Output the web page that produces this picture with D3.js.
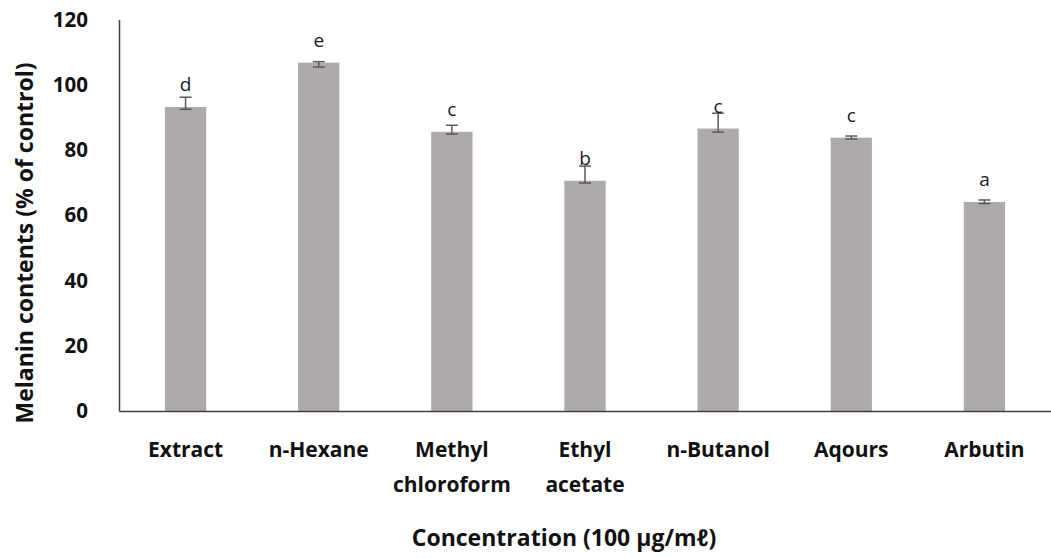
<!DOCTYPE html>
<html>
<head>
<meta charset="utf-8">
<script src="https://cdn.jsdelivr.net/npm/d3@7"></script>
<style>
  html, body { margin: 0; padding: 0; background: #fff; }
  svg { display: block; }
</style>
</head>
<body>
<svg id="chart" width="1051" height="558"></svg>
<script>
// Melanin content per fraction, with error bars and significance letters
const categories = [["Extract"], ["n-Hexane"], ["Methyl", "chloroform"], ["Ethyl", "acetate"], ["n-Butanol"], ["Aqours"], ["Arbutin"]];
const values = [93.2, 106.8, 85.6, 70.6, 86.6, 83.8, 64.1];
const errUp = [3.0, 0.3, 2.0, 4.5, 4.7, 0.5, 0.6];
const errDown = [0.7, 1.35, 0.7, 0.7, 1.1, 0.4, 0.5];
const letters = ["d", "e", "c", "b", "c", "c", "a"];
const yTicks = [0, 20, 40, 60, 80, 100, 120];

const svg = d3.select("#chart");
const plotLeft = 119, plotRight = 1051, plotTop = 19.6, plotBottom = 411;
const font = "'Open Sans', sans-serif";

const x = d3.scaleBand()
  .domain(d3.range(categories.length))
  .range([plotLeft, plotRight])
  .paddingInner(0.69)
  .paddingOuter(0.345);

const y = d3.scaleLinear().domain([0, 120]).range([plotBottom, plotTop]);

// bars
svg.append("g").selectAll("rect")
  .data(values)
  .join("rect")
  .attr("x", (d, i) => x(i))
  .attr("y", d => y(d))
  .attr("width", x.bandwidth())
  .attr("height", d => y(0) - y(d))
  .attr("fill", "#aeaaa9");

// error bars
const eb = svg.append("g").attr("stroke", "#5a5a5a").attr("stroke-width", 1.5);
values.forEach((v, i) => {
  const cx = x(i) + x.bandwidth() / 2;
  const y1 = y(v + errUp[i]), y2 = y(v - errDown[i]);
  eb.append("line").attr("x1", cx).attr("x2", cx).attr("y1", y1).attr("y2", y2);
  eb.append("line").attr("x1", cx - 6).attr("x2", cx + 6).attr("y1", y1).attr("y2", y1);
  eb.append("line").attr("x1", cx - 6).attr("x2", cx + 6).attr("y1", y2).attr("y2", y2);
});

// significance letters
svg.append("g").selectAll("text")
  .data(letters)
  .join("text")
  .attr("x", (d, i) => x(i) + x.bandwidth() / 2)
  .attr("y", (d, i) => y(values[i]) - 16)
  .attr("text-anchor", "middle")
  .attr("font-family", "'Open Sans', sans-serif")
  .attr("font-size", 19)
  .attr("fill", "#1a1a2a")
  .text(d => d);

// y axis
const yAxis = svg.append("g")
  .attr("transform", `translate(${plotLeft},0)`)
  .call(d3.axisLeft(y).tickValues(yTicks).tickSize(0).tickPadding(31));
yAxis.select(".domain").attr("stroke", "#404040").attr("stroke-width", 1.5);
yAxis.selectAll("text")
  .attr("font-family", font)
  .attr("font-weight", "bold")
  .attr("font-size", 20.5)
  .attr("fill", "#111");

// x axis line
const xAxis = svg.append("g")
  .attr("transform", `translate(0,${plotBottom})`)
  .call(d3.axisBottom(x).tickSize(0).tickFormat(""));
xAxis.select(".domain").attr("stroke", "#404040").attr("stroke-width", 1.5);

// category labels (possibly two lines)
const lab = svg.append("g").selectAll("text")
  .data(categories)
  .join("text")
  .attr("x", (d, i) => x(i) + x.bandwidth() / 2)
  .attr("y", 457)
  .attr("text-anchor", "middle")
  .attr("font-family", font)
  .attr("font-weight", "bold")
  .attr("font-size", 21)
  .attr("fill", "#111");
lab.each(function(d) {
  const t = d3.select(this);
  d.forEach((line, k) => {
    t.append("tspan")
      .attr("x", t.attr("x"))
      .attr("dy", k === 0 ? 0 : 35)
      .text(line);
  });
});

// axis titles
svg.append("text")
  .attr("transform", `translate(33,243) rotate(-90)`)
  .attr("text-anchor", "middle")
  .attr("font-family", font)
  .attr("font-weight", "bold")
  .attr("font-size", 23)
  .attr("fill", "#111")
  .text("Melanin contents (% of control)");

svg.append("text")
  .attr("x", 564)
  .attr("y", 546)
  .attr("text-anchor", "middle")
  .attr("font-family", font)
  .attr("font-weight", "bold")
  .attr("font-size", 23)
  .attr("fill", "#111")
  .text("Concentration (100 \u03BCg/m\u2113)");
</script>
</body>
</html>
